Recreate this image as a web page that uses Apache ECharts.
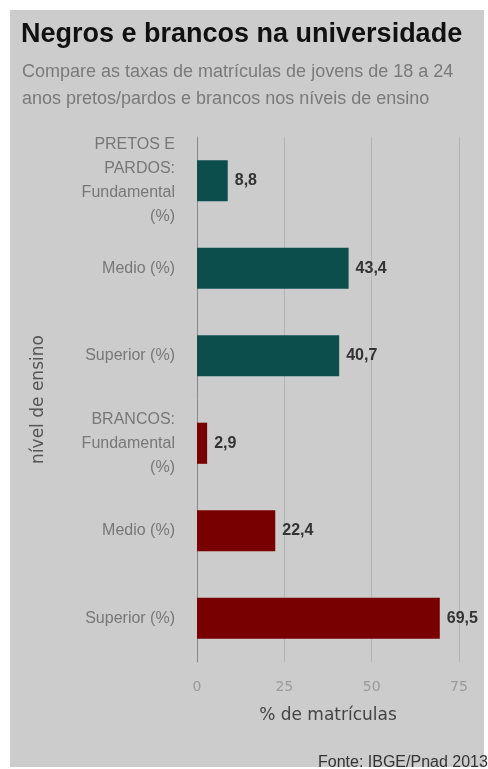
<!DOCTYPE html>
<html><head><meta charset="utf-8">
<script src="https://cdn.jsdelivr.net/npm/echarts@6/dist/echarts.min.js"></script>
<style>html,body{margin:0;padding:0;background:#fff}#c{width:488px;height:769px}</style>
</head><body><div id="c"></div>
<script>
var categories = ['PRETOS E\nPARDOS:\nFundamental\n(%)', 'Medio (%)', 'Superior (%)', 'BRANCOS:\nFundamental\n(%)', 'Medio (%)', 'Superior (%)'];
var values = [8.8, 43.4, 40.7, 2.9, 22.4, 69.5];
var groupColors = ['#0b4e4c', '#0b4e4c', '#0b4e4c', '#780000', '#780000', '#780000'];
var xTicks = [0, 25, 50, 75];

var chart = echarts.init(document.getElementById('c'));
chart.setOption({
  animation: false,
  backgroundColor: '#ffffff',
  graphic: [
    {type: 'rect', z: -10, shape: {x: 10, y: 10, width: 474, height: 757}, style: {fill: '#cccccc'}},
    {type: 'text', left: 21, top: 21, style: {text: 'Negros e brancos na universidade', fontFamily: 'Liberation Sans', fontWeight: 'bold', fontSize: 27, fill: '#111111'}},
    {type: 'text', left: 22, top: 59, style: {text: 'Compare as taxas de matrículas de jovens de 18 a 24\nanos pretos/pardos e brancos nos níveis de ensino', fontFamily: 'Liberation Sans', fontSize: 18, fill: '#7a7a7a', lineHeight: 27}},
    {type: 'text', left: 318, top: 755, style: {text: 'Fonte: IBGE/Pnad 2013', fontFamily: 'Liberation Sans', fontSize: 16, fill: '#333333'}}
  ],
  grid: {left: 197, right: 29, top: 137, bottom: 107, containLabel: false},
  xAxis: {
    type: 'value', min: xTicks[0], max: xTicks[xTicks.length - 1], interval: 25,
    name: '% de matrículas', nameLocation: 'middle', nameGap: 45,
    nameTextStyle: {fontFamily: 'DejaVu Sans', fontSize: 17, color: '#444'},
    axisLine: {show: false}, axisTick: {show: false},
    axisLabel: {margin: 18, fontFamily: 'DejaVu Sans', fontSize: 14, color: '#9a9a9a'},
    splitLine: {show: true, lineStyle: {color: '#b5b5b5', width: 1}}
  },
  yAxis: {
    type: 'category', data: categories, inverse: true,
    name: 'nível de ensino', nameLocation: 'middle', nameGap: 150, nameRotate: 90,
    nameTextStyle: {fontFamily: 'DejaVu Sans', fontSize: 17, color: '#555'},
    axisLine: {show: true, lineStyle: {color: '#888888', width: 1}},
    axisTick: {show: false},
    axisLabel: {margin: 22, fontFamily: 'Liberation Sans', fontSize: 16, color: '#777', lineHeight: 24, align: 'right'}
  },
  series: [{
    type: 'bar', data: values, barWidth: '47%',
    itemStyle: {color: function (p) { return groupColors[p.dataIndex]; }},
    label: {show: true, position: 'right', distance: 7, fontFamily: 'Liberation Sans', fontWeight: 'bold', fontSize: 16, color: '#333',
      formatter: function (p) { return String(p.value).replace('.', ','); }}
  }]
});
</script></body></html>
